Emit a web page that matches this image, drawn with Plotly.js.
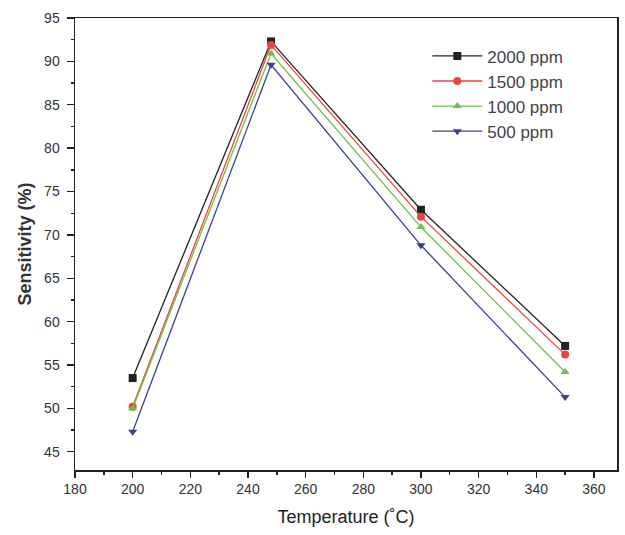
<!DOCTYPE html>
<html>
<head>
<meta charset="utf-8">
<script src="https://cdn.plot.ly/plotly-3.0.1.min.js"></script>
<style>html,body{margin:0;padding:0;background:#fff;}#chart{width:625px;height:535px;}</style>
</head>
<body>
<div id="chart"></div>
<script>
const temperature = [200, 248, 300, 350];
const ppm2000 = [53.5, 92.3, 72.9, 57.2];
const ppm1500 = [50.2, 91.9, 72.1, 56.2];
const ppm1000 = [50.0, 90.9, 70.9, 54.2];
const ppm500  = [47.3, 89.6, 68.8, 51.3];
const seriesNames = ['2000 ppm', '1500 ppm', '1000 ppm', '500 ppm'];

const styles = [
  {color: '#222222', symbol: 'square'},
  {color: '#e8453c', symbol: 'circle'},
  {color: '#6cc24a', symbol: 'triangle-up'},
  {color: '#3a4099', symbol: 'triangle-down'}
];
const values = [ppm2000, ppm1500, ppm1000, ppm500];

const traces = values.map((v, i) => ({
  x: temperature,
  y: v,
  name: seriesNames[i],
  type: 'scatter',
  mode: 'lines+markers',
  line: {color: styles[i].color, width: 1.3},
  marker: {color: styles[i].color, symbol: styles[i].symbol, size: 8}
}));

const fam = 'Liberation Sans, Arial, sans-serif';
const axisFont = {family: fam, size: 14, color: '#333'};

const layout = {
  width: 625, height: 535,
  margin: {l: 75, r: 8, t: 18, b: 65},
  paper_bgcolor: '#fff', plot_bgcolor: '#fff',
  showlegend: true,
  legend: {
    x: 0.65, y: 0.955, xanchor: 'left', yanchor: 'top',
    font: {family: fam, size: 17, color: '#444'},
    bgcolor: 'rgba(0,0,0,0)', itemwidth: 50, tracegroupgap: 0
  },
  xaxis: {
    range: [180, 368],
    tickvals: [180, 200, 220, 240, 260, 280, 300, 320, 340, 360],
    ticks: 'outside', ticklen: 6, tickwidth: 1.4, tickcolor: '#222',
    minor: {dtick: 10, ticks: 'outside', ticklen: 3, tickcolor: '#222'},
    showline: true, linecolor: '#222', linewidth: 1.5, mirror: true,
    showgrid: false, zeroline: false,
    tickfont: axisFont,
    title: {text: 'Temperature (˚C)', font: {family: fam, size: 18, color: '#222'}, standoff: 14}
  },
  yaxis: {
    range: [42.9, 95],
    tickvals: [45, 50, 55, 60, 65, 70, 75, 80, 85, 90, 95],
    ticks: 'outside', ticklen: 7, tickwidth: 1.4, tickcolor: '#222',
    ticklabelstandoff: 4,
    minor: {dtick: 2.5, ticks: 'outside', ticklen: 3, tickcolor: '#222'},
    showline: true, linecolor: '#222', linewidth: 1.5, mirror: true,
    showgrid: false, zeroline: false,
    tickfont: axisFont,
    title: {text: '<b>Sensitivity (%)</b>', font: {family: fam, size: 18, color: '#333'}, standoff: 8}
  }
};

Plotly.newPlot('chart', traces, layout, {displayModeBar: false, staticPlot: true});
</script>
</body>
</html>
